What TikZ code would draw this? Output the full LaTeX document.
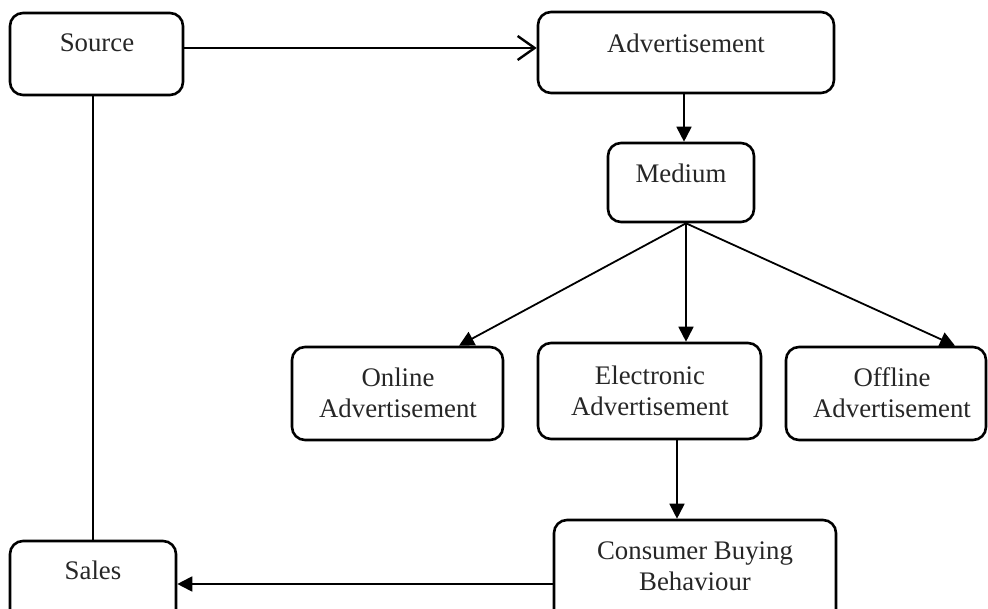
\documentclass[tikz,border=0pt]{standalone}
\usepackage{fontspec}
\setmainfont{Liberation Serif}
\usetikzlibrary{arrows.meta,calc}
\begin{document}
\begin{tikzpicture}[x=1pt,y=-1pt,
  box/.style={draw=black, line width=2.6pt, rounded corners=13pt, inner sep=0pt},
  lbl/.style={align=center, font=\fontsize{26.8}{31}\selectfont, text=black!85, inner sep=0pt},
  conn/.style={draw=black, line width=1.8pt},
  tri/.style={-{Triangle[length=15pt,width=15pt]}},
  barb/.style={-{Straight Barb[length=17pt,width=24pt]}}]
\useasboundingbox (0,0) rectangle (988,609);
\clip (0,0) rectangle (988,609);
% boxes
\node[box, minimum width=173pt, minimum height=82pt] (src) at (96.5,54) {};
\node[box, minimum width=296pt, minimum height=81pt] (adv) at (686,52.5) {};
\node[box, minimum width=146pt, minimum height=79pt] (med) at (681,182.5) {};
\node[box, minimum width=211pt, minimum height=93pt] (onl) at (397.5,393.5) {};
\node[box, minimum width=223pt, minimum height=96pt] (ele) at (649.5,391) {};
\node[box, minimum width=200pt, minimum height=93pt] (off) at (886,393.5) {};
\node[box, minimum width=282pt, minimum height=105pt] (cbb) at (695,572.5) {};
\node[box, minimum width=166pt, minimum height=84pt] (sal) at (93,583) {};
% labels
\node[lbl] (tsrc) at (97,43) {Source};
\node[lbl] (tadv) at (686,43) {Advertisement};
\node[lbl] (tmed) at (681,173) {Medium};
\node[lbl] (tonl) at (398,392.5) {Online\\Advertisement};
\node[lbl] (tele) at (650,391) {Electronic\\Advertisement};
\node[lbl] (toff) at (892,393) {Offline\\Advertisement};
\node[lbl] (tcbb) at (695,566) {Consumer Buying\\Behaviour};
\node[lbl] (tsal) at (93,570) {Sales};
% connectors
\coordinate (srcout) at ($(src.east)+(0,-6)$);
\draw[conn, line width=2.4pt, barb] (srcout) -- (adv.west |- srcout);
\draw[conn, line width=1.5pt] (src.south -| sal.north) -- (sal.north);
\coordinate (advout) at ($(adv.south)+(-2,0)$);
\draw[conn, tri] (advout) -- (advout |- med.north);
\coordinate (fan) at ($(med.south)+(5,0)$);
\draw[conn, tri] (fan) -- ($(onl.north)+(61.5,0)$);
\draw[conn, tri] (fan) -- (fan |- ele.north);
\draw[conn, tri] (fan) -- ($(off.north)+(69,0)$);
\coordinate (eleout) at ($(ele.south)+(27.5,0)$);
\draw[conn, tri] (eleout) -- (eleout |- cbb.north);
\coordinate (cbbout) at ($(cbb.west)+(0,11.5)$);
\draw[conn, tri] (cbbout) -- (sal.east |- cbbout);
\end{tikzpicture}
\end{document}
